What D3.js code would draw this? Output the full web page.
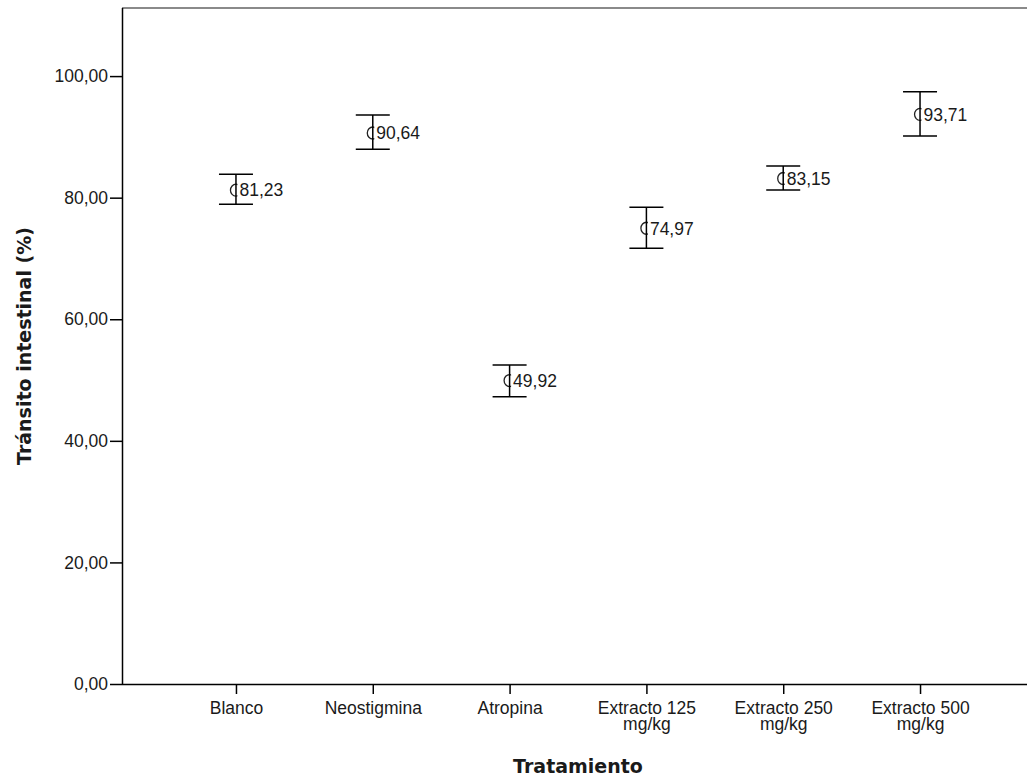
<!DOCTYPE html>
<html>
<head>
<meta charset="utf-8">
<script src="https://cdn.jsdelivr.net/npm/d3@7"></script>
<style>
  html, body { margin: 0; padding: 0; background: #fff; }
  svg { display: block; }
</style>
</head>
<body>
<svg id="chart" width="1027" height="780"></svg>
<script>
// Treatment groups (x axis), each label split over lines
const categories = ["Blanco", "Neostigmina", "Atropina", "Extracto 125 mg/kg", "Extracto 250 mg/kg", "Extracto 500 mg/kg"];
const categoryLines = [["Blanco"], ["Neostigmina"], ["Atropina"], ["Extracto 125", "mg/kg"], ["Extracto 250", "mg/kg"], ["Extracto 500", "mg/kg"]];

// Mean intestinal transit (%) and the error bar limits
const means = [81.23, 90.64, 49.92, 74.97, 83.15, 93.71];
const lower = [78.91, 87.95, 47.26, 71.67, 81.26, 90.14];
const upper = [83.84, 93.60, 52.47, 78.41, 85.20, 97.43];

// Y axis ticks
const yTicks = [0, 20, 40, 60, 80, 100];

const svg = d3.select("#chart");
const plotLeft = 122, plotRight = 1034, plotTop = 8, plotBottom = 684;

const x = d3.scalePoint().domain(categories).range([plotLeft, plotRight]).padding(0.833);
const y = d3.scaleLinear().domain([0, 111.2]).range([plotBottom, plotTop]);

const comma = v => d3.format(".2f")(v).replace(".", ",");
const tickFont = "'Liberation Sans', Arial, sans-serif";
const titleFont = "'DejaVu Sans', Verdana, sans-serif";

// Frame: grey top border
svg.append("line")
  .attr("x1", plotLeft).attr("x2", 1027).attr("y1", plotTop).attr("y2", plotTop)
  .attr("stroke", "#8a8a8a").attr("stroke-width", 2);

// Y axis
const yAxis = svg.append("g")
  .attr("transform", `translate(${plotLeft},0)`)
  .call(d3.axisLeft(y).tickValues(yTicks).tickFormat(comma).tickSize(12).tickSizeOuter(0));
yAxis.select(".domain").attr("stroke", "#000").attr("stroke-width", 1.5)
  .attr("d", `M0.5,${plotTop}V${plotBottom}`);
yAxis.selectAll(".tick line").attr("stroke", "#000").attr("stroke-width", 1.5);
yAxis.selectAll(".tick text")
  .attr("x", -14)
  .attr("font-family", tickFont).attr("font-size", 17.5).attr("fill", "#1a1a1a");

// X axis
const xAxis = svg.append("g")
  .attr("transform", `translate(0,${plotBottom})`)
  .call(d3.axisBottom(x).tickSize(10).tickSizeOuter(0).tickFormat(""));
xAxis.select(".domain").attr("stroke", "#000").attr("stroke-width", 1.5)
  .attr("d", `M${plotLeft},0.5H1027`);
xAxis.selectAll(".tick line").attr("stroke", "#000").attr("stroke-width", 1.5);
xAxis.selectAll(".tick").each(function(d, i) {
  const t = d3.select(this).append("text")
    .attr("text-anchor", "middle")
    .attr("font-family", tickFont).attr("font-size", 17.5).attr("fill", "#1a1a1a");
  categoryLines[i].forEach((ln, j) => {
    t.append("tspan").attr("x", 0).attr("y", 30 + j * 15.5).text(ln);
  });
});

// Axis titles
svg.append("text")
  .attr("x", x(categories[0]) + (x(categories[5]) - x(categories[0])) / 2)
  .attr("y", 773)
  .attr("text-anchor", "middle")
  .attr("font-family", titleFont).attr("font-weight", "bold").attr("font-size", 19)
  .attr("fill", "#1a1a1a")
  .text("Tratamiento");

svg.append("text")
  .attr("transform", `translate(31,${(plotTop + plotBottom) / 2}) rotate(-90)`)
  .attr("text-anchor", "middle")
  .attr("font-family", titleFont).attr("font-weight", "bold").attr("font-size", 19)
  .attr("fill", "#1a1a1a")
  .text("Tránsito intestinal (%)");

// Points with error bars and value labels
const rows = categories.map((c, i) => ({ c, m: means[i], lo: lower[i], hi: upper[i] }));
const g = svg.append("g").selectAll("g").data(rows).join("g");

g.append("ellipse")
  .attr("cx", d => x(d.c)).attr("cy", d => y(d.m))
  .attr("rx", 5.5).attr("ry", 6)
  .attr("fill", "none").attr("stroke", "#222").attr("stroke-width", 1.3);

// label box hides the right half of the marker
g.append("rect")
  .attr("x", d => x(d.c) + 1.5).attr("y", d => y(d.m) - 8)
  .attr("width", 46).attr("height", 16)
  .attr("fill", "#fff");

g.append("text")
  .attr("x", d => x(d.c) + 3.5).attr("y", d => y(d.m))
  .attr("dy", "0.36em")
  .attr("font-family", tickFont).attr("font-size", 17.5).attr("fill", "#1a1a1a")
  .text(d => comma(d.m));

g.append("line")
  .attr("x1", d => x(d.c)).attr("x2", d => x(d.c))
  .attr("y1", d => y(d.hi)).attr("y2", d => y(d.lo))
  .attr("stroke", "#000").attr("stroke-width", 1.5);

g.selectAll(".cap").data(d => [d.hi, d.lo].map(v => ({ c: d.c, v })))
  .join("line").attr("class", "cap")
  .attr("x1", d => x(d.c) - 17).attr("x2", d => x(d.c) + 17)
  .attr("y1", d => y(d.v)).attr("y2", d => y(d.v))
  .attr("stroke", "#000").attr("stroke-width", 1.5);
</script>
</body>
</html>
